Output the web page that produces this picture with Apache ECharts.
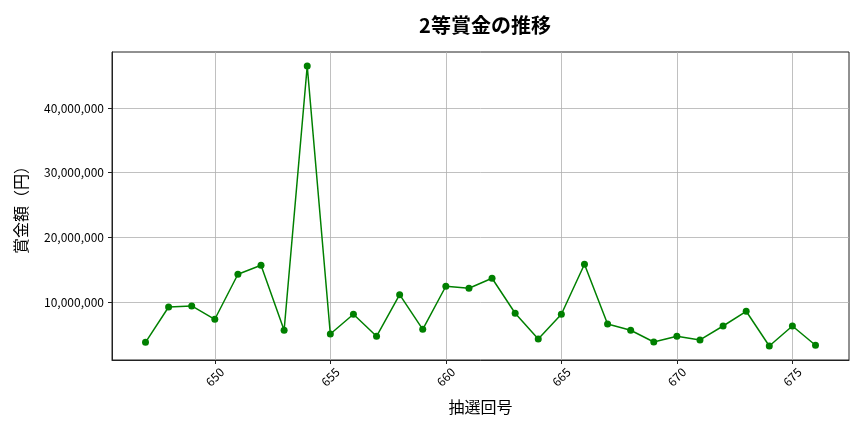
<!DOCTYPE html>
<html>
<head>
<meta charset="utf-8">
<script src="https://cdn.jsdelivr.net/npm/echarts@6/dist/echarts.min.js"></script>
<style>
  html, body { margin: 0; padding: 0; background: #fff; }
  #main { width: 864px; height: 432px; }
</style>
</head>
<body>
<div id="main"></div>
<script>
// 抽選回号 と 2等賞金（円）
var draws = [647, 648, 649, 650, 651, 652, 653, 654, 655, 656, 657, 658, 659, 660, 661,
             662, 663, 664, 665, 666, 667, 668, 669, 670, 671, 672, 673, 674, 675, 676];
var prizes = [3760000, 9220000, 9380000, 7320000, 14290000, 15680000, 5620000, 46500000,
              5050000, 8090000, 4690000, 11130000, 5770000, 12430000, 12120000, 13670000,
              8250000, 4270000, 8090000, 15830000, 6590000, 5620000, 3810000, 4690000,
              4120000, 6280000, 8560000, 3190000, 6280000, 3300000];
var xTicks = [650, 655, 660, 665, 670, 675];
var yTicks = [10000000, 20000000, 30000000, 40000000];

var FONT = '"Noto Sans CJK JP", "Noto Sans", sans-serif';

var myChart = echarts.init(document.getElementById('main'));

var points = [];
for (var i = 0; i < draws.length; i++) {
  points.push([draws[i], prizes[i]]);
}

var option = {
  animation: false,
  title: {
    text: '2等賞金の推移',
    left: 480, top: 10, textAlign: 'center',
    textStyle: { fontFamily: FONT, fontSize: 20, fontWeight: 'bold', color: '#000' }
  },
  grid: {
    left: 112, right: 15, top: 52, bottom: 72,
    show: true, borderColor: '#222', borderWidth: 1
  },
  xAxis: {
    type: 'value',
    min: 645.55, max: 677.45,
    name: '抽選回号',
    nameLocation: 'middle',
    nameGap: 39,
    nameTextStyle: { fontFamily: FONT, fontSize: 16, color: '#000' },
    axisLine: { show: true, lineStyle: { color: '#222' } },
    axisTick: { show: true, length: 4, lineStyle: { color: '#222' }, customValues: xTicks },
    axisLabel: {
      customValues: xTicks, rotate: 45, align: 'center', verticalAlign: 'middle',
      margin: 17, fontFamily: FONT, fontSize: 12, color: '#000'
    },
    splitLine: { show: true, lineStyle: { color: '#b0b0b0', width: 0.8 } }
  },
  yAxis: {
    type: 'value',
    min: 1020000, max: 48670000,
    name: '賞金額（円）',
    nameLocation: 'middle',
    nameGap: 83,
    nameTextStyle: { fontFamily: FONT, fontSize: 16, color: '#000' },
    axisLine: { show: true, lineStyle: { color: '#222' } },
    axisTick: { show: true, length: 4, lineStyle: { color: '#222' }, customValues: yTicks },
    axisLabel: {
      customValues: yTicks, margin: 8, fontFamily: FONT, fontSize: 12, color: '#000',
      formatter: function (v) { return echarts.format.addCommas(v); }
    },
    splitLine: { show: true, lineStyle: { color: '#b0b0b0', width: 0.8 } }
  },
  series: [{
    type: 'line',
    data: points,
    symbol: 'circle',
    symbolSize: 7,
    lineStyle: { color: '#008000', width: 1.5 },
    itemStyle: { color: '#008000' }
  }]
};

myChart.setOption(option);
</script>
</body>
</html>
